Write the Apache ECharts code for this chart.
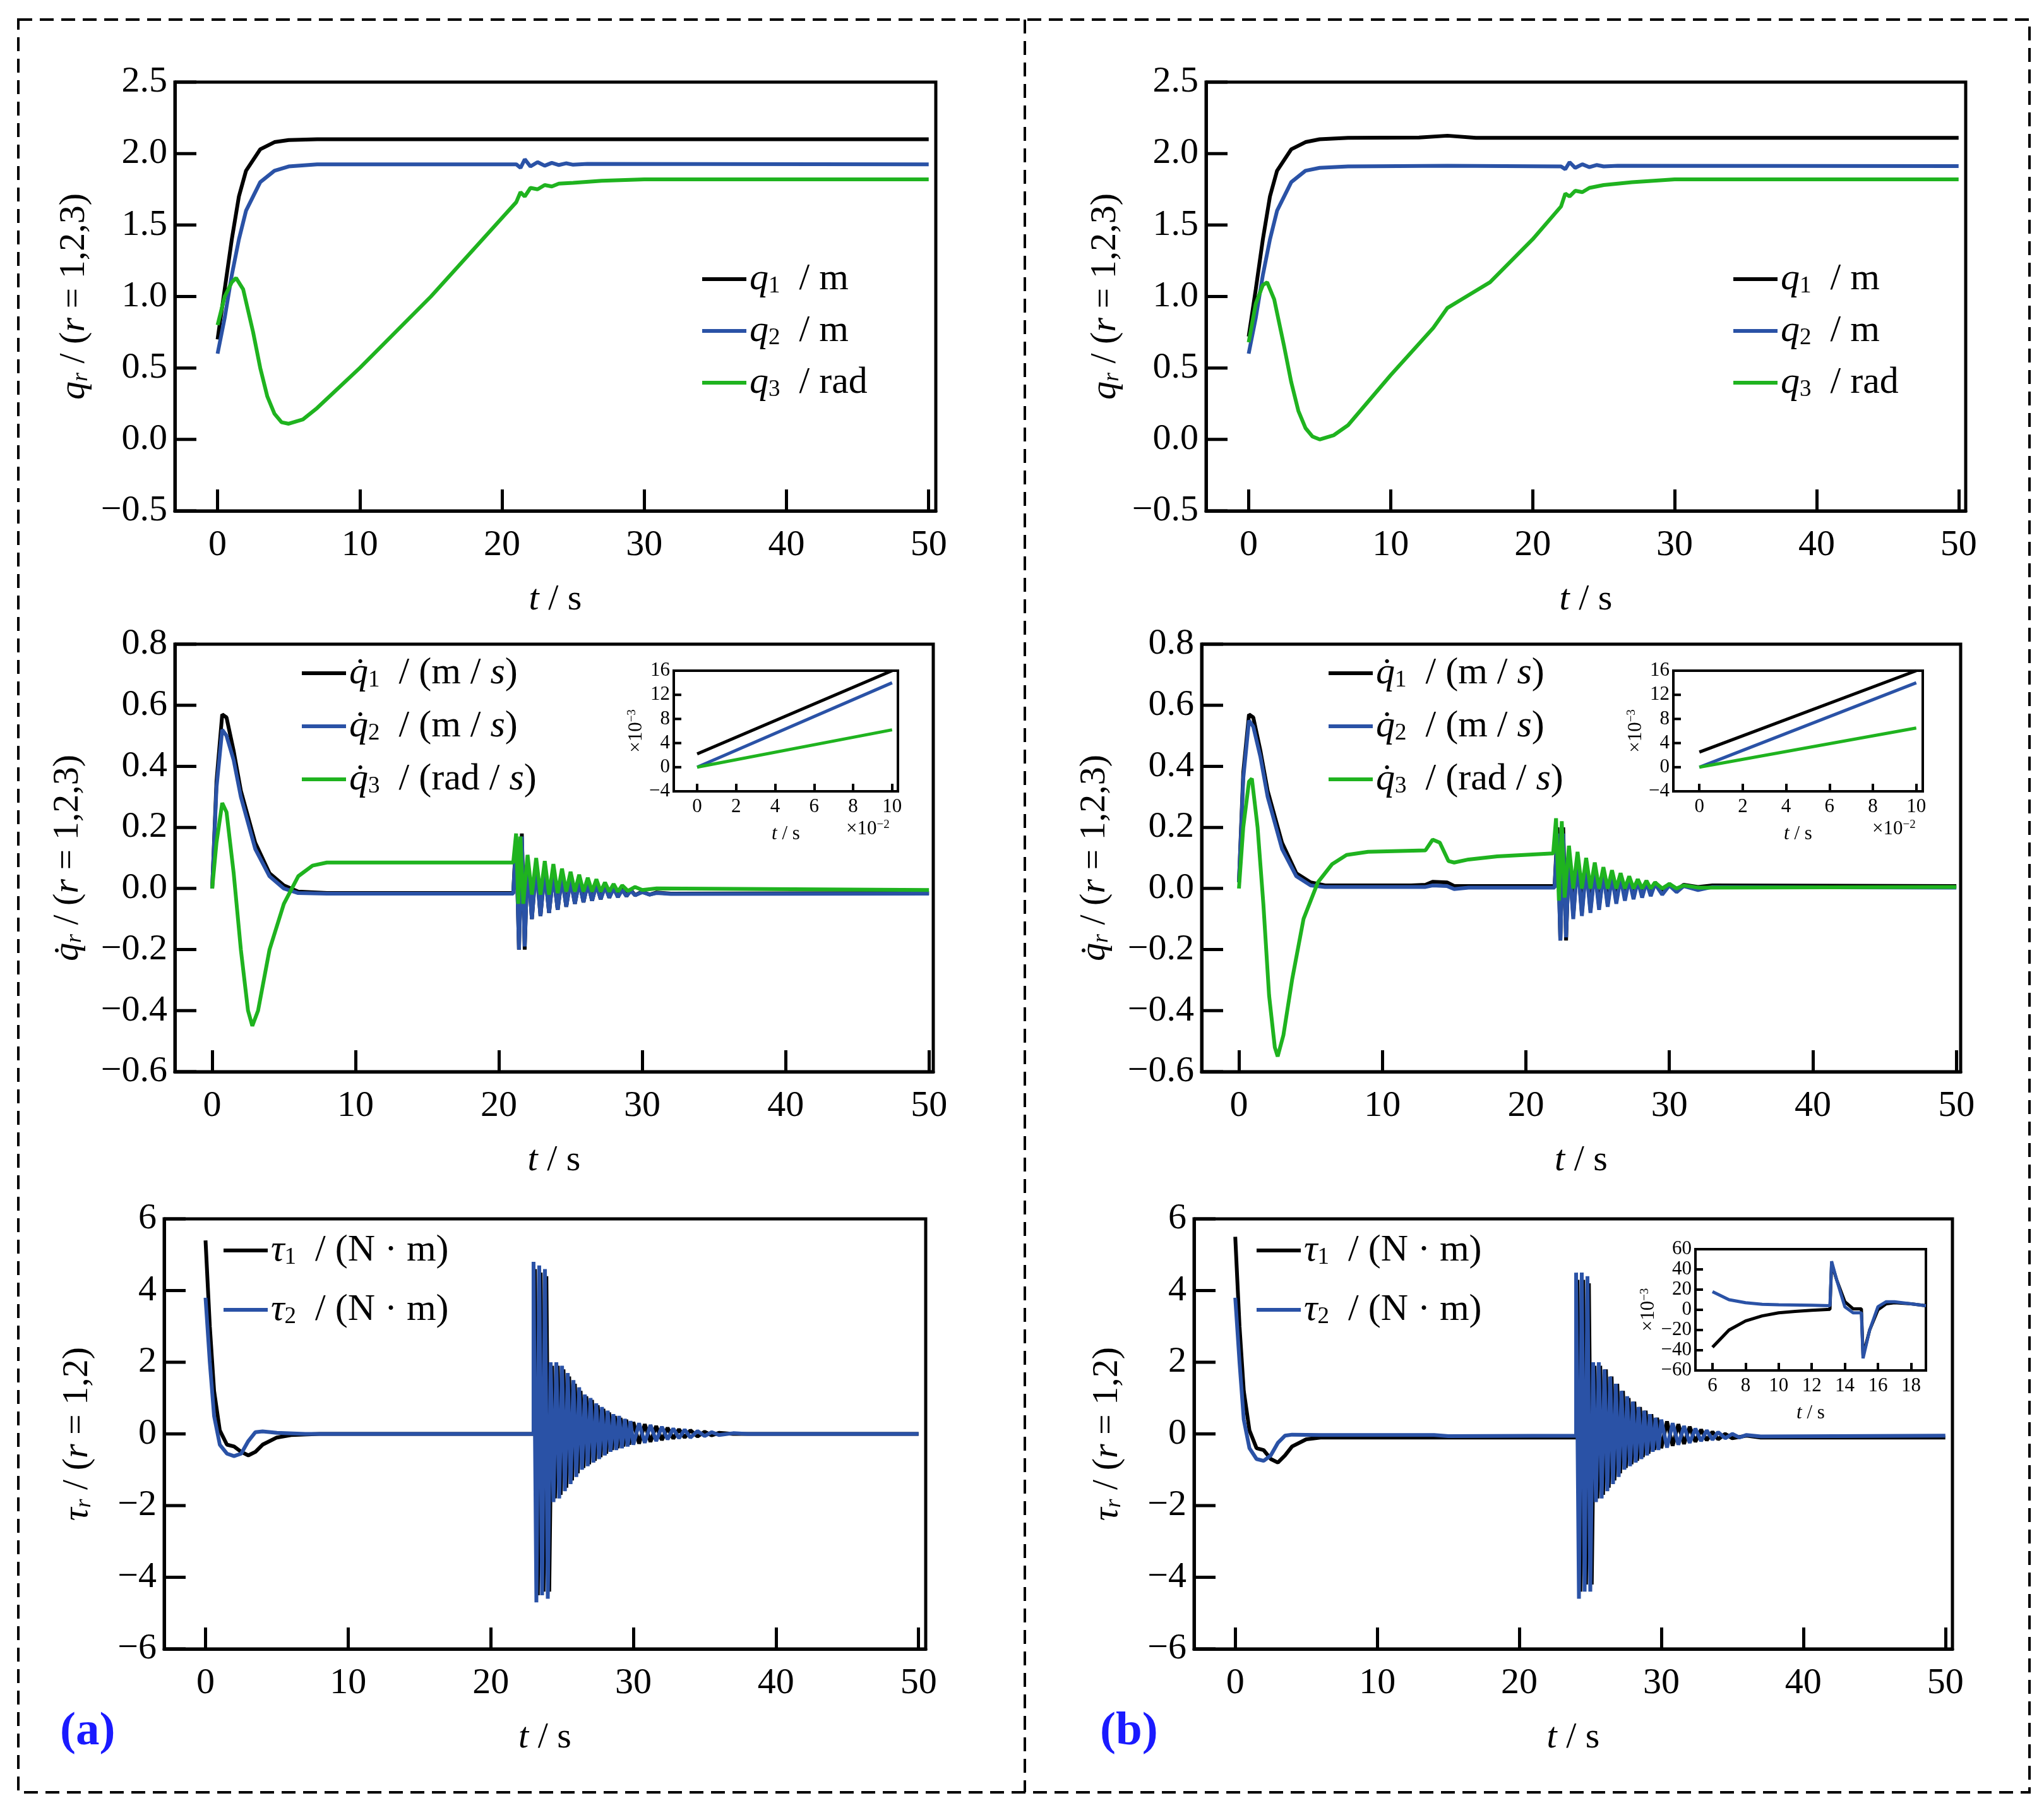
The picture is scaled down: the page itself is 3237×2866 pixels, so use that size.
<!DOCTYPE html>
<html><head><meta charset="utf-8">
<script src="https://cdn.jsdelivr.net/npm/echarts@6/dist/echarts.min.js"></script>
<style>html,body{margin:0;padding:0;background:#fff}#c{width:3237px;height:2866px}</style>
</head><body><div id="c"></div>
<script>
// ---------------- DATA ----------------
const xTicks = [0, 10, 20, 30, 40, 50];
const yTicksQ = [-0.5, 0, 0.5, 1.0, 1.5, 2.0, 2.5];
const yTicksDQ = [-0.6, -0.4, -0.2, 0, 0.2, 0.4, 0.6, 0.8];
const yTicksTau = [-6, -4, -2, 0, 2, 4, 6];
const insetXTicksA = [0, 2, 4, 6, 8, 10];
const insetYTicksA = [-4, 0, 4, 8, 12, 16];
const insetXTicksB = [6, 8, 10, 12, 14, 16, 18];
const insetYTicksB = [-60, -40, -20, 0, 20, 40, 60];

// (a) positions
const aQ1 = [[0,0.7],[0.5,1.05],[1,1.4],[1.5,1.7],[2,1.88],[3,2.03],[4,2.08],[5,2.095],[7,2.1],[50,2.1]];
const aQ2 = [[0,0.6],[0.5,0.85],[1,1.15],[1.5,1.4],[2,1.6],[3,1.8],[4,1.88],[5,1.91],[7,1.925],[21,1.925],[21.3,1.9],[21.6,1.96],[22,1.91],[22.5,1.94],[23,1.915],[23.5,1.935],[24,1.92],[24.5,1.932],[25,1.922],[26,1.928],[50,1.925]];
const aQ3 = [[0,0.8],[0.5,1.0],[1,1.1],[1.3,1.13],[1.8,1.05],[2.5,0.75],[3,0.5],[3.5,0.3],[4,0.18],[4.5,0.12],[5,0.11],[6,0.14],[7,0.22],[10,0.5],[15,1.0],[20,1.55],[21,1.66],[21.3,1.73],[21.6,1.7],[22,1.76],[22.5,1.75],[23,1.78],[23.5,1.77],[24,1.79],[25,1.795],[27,1.81],[30,1.82],[50,1.82]];
// (b) positions
const bQ1 = [[0,0.72],[0.5,1.05],[1,1.4],[1.5,1.7],[2,1.88],[3,2.03],[4,2.08],[5,2.1],[7,2.11],[12,2.112],[14,2.125],[16,2.11],[50,2.11]];
const bQ2 = [[0,0.6],[0.5,0.85],[1,1.15],[1.5,1.4],[2,1.6],[3,1.8],[4,1.88],[5,1.9],[7,1.91],[14,1.915],[22,1.91],[22.3,1.89],[22.6,1.94],[23,1.9],[23.5,1.925],[24,1.905],[24.5,1.92],[25,1.91],[26,1.915],[50,1.912]];
const bQ3 = [[0,0.68],[0.5,0.95],[1,1.08],[1.3,1.1],[1.8,0.98],[2.5,0.65],[3,0.4],[3.5,0.2],[4,0.08],[4.5,0.02],[5,0.0],[6,0.03],[7,0.1],[10,0.45],[13,0.78],[14,0.92],[15,0.98],[17,1.1],[20,1.4],[22,1.63],[22.3,1.72],[22.6,1.7],[23,1.74],[23.5,1.73],[24,1.76],[25,1.78],[27,1.8],[30,1.82],[50,1.82]];

// (a) velocities
const aDQ1 = [[0,0],[0.3,0.35],[0.7,0.57],[1,0.56],[1.5,0.45],[2,0.32],[3,0.15],[4,0.05],[5,0.01],[6,-0.01],[8,-0.015],[21,-0.015],[21.2,0.17],[21.4,-0.2],[21.6,0.18],[21.8,-0.2],[22,0.1],[22.3,-0.1],[22.6,0.08],[22.9,-0.09],[23.2,0.06],[23.5,-0.08],[23.8,0.05],[24.1,-0.07],[24.4,0.04],[24.7,-0.06],[25,0.03],[25.3,-0.05],[25.6,0.025],[25.9,-0.045],[26.2,0.02],[26.5,-0.04],[26.8,0.015],[27.1,-0.035],[27.4,0.01],[27.7,-0.03],[28,0.005],[28.3,-0.028],[28.6,0],[28.9,-0.025],[29.2,-0.005],[29.5,-0.022],[30,-0.01],[30.5,-0.02],[31,-0.013],[32,-0.017],[50,-0.015]];
const aDQ2 = [[0,0],[0.3,0.33],[0.7,0.52],[1,0.5],[1.5,0.42],[2,0.3],[3,0.13],[4,0.04],[5,0],[6,-0.015],[8,-0.017],[21,-0.017],[21.2,0.16],[21.4,-0.2],[21.6,0.17],[21.8,-0.19],[22,0.09],[22.3,-0.1],[22.6,0.07],[22.9,-0.09],[23.2,0.055],[23.5,-0.08],[23.8,0.045],[24.1,-0.07],[24.4,0.035],[24.7,-0.06],[25,0.025],[25.3,-0.05],[25.6,0.02],[25.9,-0.045],[26.2,0.015],[26.5,-0.04],[26.8,0.01],[27.1,-0.035],[27.4,0.005],[27.7,-0.03],[28,0],[28.3,-0.028],[28.6,-0.005],[28.9,-0.025],[29.2,-0.008],[29.5,-0.022],[30,-0.012],[30.5,-0.02],[31,-0.015],[32,-0.018],[50,-0.017]];
const aDQ3 = [[0,0],[0.3,0.15],[0.7,0.28],[1,0.25],[1.5,0.05],[2,-0.2],[2.5,-0.4],[2.8,-0.45],[3.2,-0.4],[4,-0.2],[5,-0.05],[6,0.04],[7,0.075],[8,0.085],[21,0.085],[21.2,0.18],[21.35,-0.05],[21.5,0.17],[21.7,-0.05],[22,0.11],[22.3,-0.02],[22.6,0.1],[22.9,-0.02],[23.2,0.09],[23.5,-0.02],[23.8,0.08],[24.1,-0.015],[24.4,0.065],[24.7,-0.01],[25,0.055],[25.3,-0.01],[25.6,0.045],[25.9,-0.01],[26.2,0.035],[26.5,-0.01],[26.8,0.03],[27.1,-0.01],[27.4,0.02],[27.7,-0.01],[28,0.015],[28.3,-0.01],[28.6,0.01],[29,-0.008],[29.5,0.005],[30,-0.005],[31,0],[50,-0.005]];
// (b) velocities
const bDQ1 = [[0,0.02],[0.3,0.38],[0.7,0.57],[1,0.56],[1.5,0.45],[2,0.32],[3,0.15],[4,0.05],[5,0.02],[6,0.01],[12,0.01],[13,0.012],[13.5,0.022],[14.5,0.02],[15,0.008],[16,0.008],[22,0.008],[22.2,0.2],[22.4,-0.17],[22.6,0.2],[22.8,-0.17],[23,0.12],[23.3,-0.09],[23.6,0.1],[23.9,-0.08],[24.2,0.08],[24.5,-0.07],[24.8,0.065],[25.1,-0.06],[25.4,0.055],[25.7,-0.05],[26,0.045],[26.3,-0.04],[26.6,0.04],[26.9,-0.03],[27.2,0.035],[27.5,-0.025],[27.8,0.03],[28.1,-0.02],[28.4,0.025],[28.7,-0.015],[29,0.02],[29.5,-0.01],[30,0.015],[30.5,-0.005],[31,0.012],[32,0.005],[33,0.01],[50,0.008]];
const bDQ2 = [[0,0.02],[0.3,0.36],[0.7,0.55],[1,0.53],[1.5,0.43],[2,0.3],[3,0.13],[4,0.04],[5,0.01],[6,0.005],[12,0.005],[13,0.005],[13.5,0.01],[14.5,0.008],[15,-0.002],[16,0.003],[22,0.003],[22.2,0.18],[22.4,-0.17],[22.6,0.18],[22.8,-0.16],[23,0.1],[23.3,-0.1],[23.6,0.09],[23.9,-0.09],[24.2,0.07],[24.5,-0.08],[24.8,0.06],[25.1,-0.07],[25.4,0.05],[25.7,-0.06],[26,0.04],[26.3,-0.05],[26.6,0.035],[26.9,-0.04],[27.2,0.03],[27.5,-0.035],[27.8,0.025],[28.1,-0.03],[28.4,0.02],[28.7,-0.025],[29,0.015],[29.5,-0.02],[30,0.01],[30.5,-0.012],[31,0.008],[32,-0.005],[33,0.005],[50,0.003]];
const bDQ3 = [[0,0],[0.3,0.2],[0.7,0.35],[0.9,0.36],[1.3,0.2],[1.7,-0.05],[2.1,-0.35],[2.5,-0.52],[2.7,-0.55],[3.1,-0.48],[3.7,-0.3],[4.5,-0.1],[5.5,0.02],[6.5,0.08],[7.5,0.11],[9,0.12],[13,0.125],[13.5,0.16],[14,0.15],[14.6,0.09],[15,0.085],[16,0.095],[18,0.105],[21.9,0.115],[22.1,0.23],[22.3,-0.04],[22.5,0.22],[22.7,-0.03],[23,0.14],[23.3,0],[23.6,0.12],[23.9,0],[24.2,0.1],[24.5,0],[24.8,0.085],[25.1,0],[25.4,0.07],[25.7,0],[26,0.06],[26.3,0],[26.6,0.05],[26.9,0],[27.2,0.04],[27.5,0],[27.8,0.03],[28.1,0],[28.4,0.025],[28.7,0],[29,0.02],[29.5,0],[30,0.015],[30.5,0],[31,0.01],[32,0.003],[50,0.005]];

// (a) torques
const aTau1 = [[0,5.4],[0.3,3],[0.6,1.2],[1,0.1],[1.5,-0.3],[2,-0.35],[2.5,-0.5],[3,-0.6],[3.5,-0.5],[4,-0.3],[5,-0.1],[6,-0.03],[8,0],[23,0],[23.1,4.6],[23.3,-4.5],[23.5,4.5],[23.7,-4.4],[23.9,4.4],[24.1,-4.4],[24.3,1.9],[24.5,-1.8],[24.7,1.9],[24.9,-1.7],[25.1,1.8],[25.3,-1.5],[25.5,1.6],[25.7,-1.3],[25.9,1.4],[26.1,-1.1],[26.3,1.2],[26.5,-0.95],[26.7,1.05],[26.9,-0.85],[27.1,0.95],[27.3,-0.75],[27.5,0.8],[27.7,-0.65],[27.9,0.7],[28.1,-0.55],[28.3,0.6],[28.5,-0.45],[28.7,0.5],[28.9,-0.4],[29.1,0.45],[29.3,-0.35],[29.5,0.4],[29.7,-0.3],[30,0.33],[30.4,-0.27],[30.8,0.27],[31.2,-0.22],[31.6,0.22],[32,-0.17],[32.4,0.17],[32.8,-0.13],[33.2,0.13],[33.6,-0.1],[34,0.1],[34.5,-0.07],[35,0.06],[35.5,-0.04],[36,0.03],[37,0],[50,0]];
const aTau2 = [[0,3.8],[0.3,2],[0.6,0.5],[1,-0.3],[1.5,-0.55],[2,-0.62],[2.5,-0.55],[3,-0.2],[3.5,0.05],[4,0.07],[5,0.03],[7,0],[23,0],[23.0,4.8],[23.2,-4.7],[23.4,4.7],[23.6,-4.5],[23.8,4.6],[24,-4.6],[24.2,2.0],[24.4,-1.9],[24.6,2.0],[24.8,-1.8],[25,1.9],[25.2,-1.6],[25.4,1.7],[25.6,-1.4],[25.8,1.5],[26,-1.2],[26.2,1.3],[26.4,-1.0],[26.6,1.1],[26.8,-0.9],[27,1.0],[27.2,-0.8],[27.4,0.85],[27.6,-0.7],[27.8,0.75],[28,-0.6],[28.2,0.65],[28.4,-0.5],[28.6,0.55],[28.8,-0.45],[29,0.5],[29.2,-0.4],[29.4,0.42],[29.6,-0.35],[29.8,0.36],[30,-0.3],[30.4,0.3],[30.8,-0.25],[31.2,0.25],[31.6,-0.2],[32,0.2],[32.4,-0.15],[32.8,0.15],[33.2,-0.12],[33.6,0.12],[34,-0.1],[34.5,0.08],[35,-0.06],[35.5,0.05],[36,-0.03],[37,0.02],[38,0],[50,0]];
// (b) torques
const bTau1 = [[0,5.5],[0.3,3],[0.6,1.2],[1,0.1],[1.5,-0.4],[2,-0.45],[2.5,-0.7],[3,-0.8],[3.5,-0.6],[4,-0.35],[5,-0.15],[6,-0.1],[8,-0.1],[24,-0.1],[24.1,4.3],[24.3,-4.4],[24.5,4.3],[24.7,-4.2],[24.9,4.2],[25.1,-4.2],[25.3,1.9],[25.5,-1.8],[25.7,1.9],[25.9,-1.7],[26.1,1.8],[26.3,-1.5],[26.5,1.6],[26.7,-1.3],[26.9,1.4],[27.1,-1.1],[27.3,1.2],[27.5,-0.95],[27.7,1.0],[27.9,-0.85],[28.1,0.9],[28.3,-0.75],[28.5,0.75],[28.7,-0.65],[28.9,0.65],[29.1,-0.55],[29.3,0.55],[29.5,-0.45],[29.7,0.45],[30,-0.4],[30.4,0.35],[30.8,-0.33],[31.2,0.27],[31.6,-0.28],[32,0.2],[32.4,-0.22],[32.8,0.12],[33.2,-0.18],[33.6,0.06],[34,-0.15],[34.5,0],[35,-0.12],[36,-0.05],[37,-0.1],[50,-0.1]];
const bTau2 = [[0,3.8],[0.3,2],[0.6,0.4],[1,-0.4],[1.5,-0.7],[2,-0.75],[2.5,-0.6],[3,-0.25],[3.5,-0.05],[4,-0.02],[6,-0.03],[14,-0.03],[15,-0.06],[24,-0.05],[24,4.5],[24.2,-4.6],[24.4,4.5],[24.6,-4.4],[24.8,4.4],[25,-4.4],[25.2,2.0],[25.4,-1.9],[25.6,2.0],[25.8,-1.8],[26,1.8],[26.2,-1.6],[26.4,1.6],[26.6,-1.4],[26.8,1.4],[27,-1.2],[27.2,1.2],[27.4,-1.0],[27.6,1.05],[27.8,-0.9],[28,0.9],[28.2,-0.8],[28.4,0.75],[28.6,-0.7],[28.8,0.65],[29,-0.6],[29.2,0.55],[29.4,-0.5],[29.6,0.45],[29.8,-0.45],[30,0.4],[30.4,-0.38],[30.8,0.3],[31.2,-0.3],[31.6,0.22],[32,-0.25],[32.4,0.15],[32.8,-0.2],[33.2,0.1],[33.6,-0.16],[34,0.05],[34.5,-0.12],[35,0],[35.5,-0.1],[36,-0.03],[37,-0.07],[50,-0.05]];

// inset (a) & (b) middle: t in 1e-2 s, values in 1e-3
const inADQ1 = [[0,2.2],[10,16]];
const inADQ2 = [[0,0],[10,14]];
const inADQ3 = [[0,0],[10,6.2]];
const inBDQ1 = [[0,2.5],[10,16]];
const inBDQ2 = [[0,0],[10,14]];
const inBDQ3 = [[0,0],[10,6.5]];
// inset (b) bottom: t in s, values in 1e-3
const inBTau1 = [[6,-37],[7,-20],[8,-11],[9,-6],[10,-3],[11,-1.5],[12,-0.5],[13.1,0.5],[13.2,46],[13.5,30],[14,8],[14.5,1],[15,1],[15.1,-45],[15.5,-20],[16,0],[16.5,6],[17,7],[18,6],[18.9,4]];
const inBTau2 = [[6,18],[7,10],[8,7],[9,5.5],[10,5],[12,4.5],[13.1,4],[13.2,48],[13.5,30],[14,3],[14.5,-3],[15,-3],[15.1,-48],[15.5,-20],[16,3],[16.5,8],[17,8],[18,6],[18.9,4]];

// ---------------- CHART ----------------
const FONT = 'Liberation Serif';
const BLACK = '#000000', BLUE = '#2a52a6', GREEN = '#1fb31f';
const fmtNum = (v, dec) => {
  const r = Math.round(v * 1e6) / 1e6;
  const s = Math.abs(r).toFixed(dec);
  return r < 0 ? '\u2212' + s : s;
};

const grids = [], xAxes = [], yAxes = [], series = [], legends = [], graphics = [];

function panel(box, xr, yt, xt, dec, yName, main) {
  const gi = grids.length;
  const bw = main ? 5 : 4;
  grids.push({left: box[0], top: box[1], width: box[2]-box[0], height: box[3]-box[1],
    show: true, borderColor: '#000', borderWidth: bw, backgroundColor: 'transparent', containLabel: false});
  const fs = main ? 58 : 31;
  const tl = main ? 34 : 12;
  xAxes.push({type: 'value', gridIndex: gi, min: xr[0], max: xr[1],
    axisLine: {show: true, onZero: false, lineStyle: {color: '#000', width: bw}}, splitLine: {show: false},
    axisTick: {show: true, inside: true, length: tl, lineStyle: {color: '#000', width: bw}, customValues: xt},
    axisLabel: {color: '#000', fontFamily: FONT, fontSize: fs, margin: main ? 26 : 9, customValues: xt,
      formatter: v => fmtNum(v, 0)},
    name: '{i|t} / s', nameLocation: 'middle', nameGap: main ? 112 : 52,
    nameTextStyle: {color: '#000', fontFamily: FONT, fontSize: fs,
      rich: {i: {fontStyle: 'italic', fontFamily: FONT, fontSize: fs, color: '#000'}}}});
  yAxes.push({type: 'value', gridIndex: gi, min: yt[0], max: yt[yt.length-1], interval: yt[1]-yt[0],
    axisLine: {show: true, onZero: false, lineStyle: {color: '#000', width: bw}}, splitLine: {show: false},
    axisTick: {show: false},
    axisLabel: {color: '#000', fontFamily: FONT, fontSize: fs, margin: main ? 12 : 6,
      formatter: v => fmtNum(v, dec)},
    name: yName.text, nameLocation: 'middle', nameRotate: 90, nameGap: yName.gap,
    nameTextStyle: {color: '#000', fontFamily: FONT, fontSize: yName.fs, rich: yName.rich}});
  // inward y ticks drawn by a custom series through the grid's own scales
  series.push({type: 'custom', xAxisIndex: gi, yAxisIndex: gi, silent: true, clip: false, z: 5,
    data: yt.map(v => [xr[0], v]),
    renderItem: (params, api) => {
      const p = api.coord([api.value(0), api.value(1)]);
      return {type: 'line', shape: {x1: p[0], y1: p[1], x2: p[0] + tl, y2: p[1]},
        style: {stroke: '#000', lineWidth: bw}};
    }});
  return gi;
}
function line(gi, name, data, color, w) {
  series.push({type: 'line', name, xAxisIndex: gi, yAxisIndex: gi, data, showSymbol: false,
    symbol: 'none', lineStyle: {color, width: w || 6}, itemStyle: {color}, animation: false, silent: true});
}

const mainRich = (fs) => ({
  i: {fontStyle: 'italic', fontFamily: FONT, fontSize: fs, color: '#000'},
  n: {fontFamily: FONT, fontSize: fs, color: '#000'},
  s: {fontFamily: FONT, fontSize: Math.round(fs*0.62), color: '#000', verticalAlign: 'bottom', padding: [Math.round(fs*0.35),0,0,0]},
  si: {fontStyle: 'italic', fontFamily: FONT, fontSize: Math.round(fs*0.62), color: '#000', verticalAlign: 'bottom', padding: [Math.round(fs*0.35),0,0,0]},
  sup: {fontFamily: FONT, fontSize: Math.round(fs*0.62), color: '#000', verticalAlign: 'top', padding: [0,0,Math.round(fs*0.35),0]}
});
const yNameQ = {text: '{i|q}{si|r} {n|/ (}{i|r}{n| = 1,2,3)}', gap: 130, fs: 58, rich: mainRich(58)};
const yNameDQ = {text: '{i|q\u0307}{si|r} {n|/ (}{i|r}{n| = 1,2,3)}', gap: 140, fs: 58, rich: mainRich(58)};
const yNameTau = {text: '{i|\u03c4}{si|r} {n|/ (}{i|r}{n| = 1,2)}', gap: 108, fs: 58, rich: mainRich(58)};
const yNameIn = {text: '{n|\u00d710}{sup|\u22123}', gap: 44, fs: 31, rich: mainRich(31)};

const legendLabels = {
  'q1': '{i|q}{s|1}{n|  / m}', 'q2': '{i|q}{s|2}{n|  / m}', 'q3': '{i|q}{s|3}{n|  / rad}',
  'dq1': '{i|q\u0307}{s|1}{n|  / (m / }{i|s}{n|)}', 'dq2': '{i|q\u0307}{s|2}{n|  / (m / }{i|s}{n|)}', 'dq3': '{i|q\u0307}{s|3}{n|  / (rad / }{i|s}{n|)}',
  'tau1': '{i|\u03c4}{s|1}{n|  / (N \u00b7 m)}', 'tau2': '{i|\u03c4}{s|2}{n|  / (N \u00b7 m)}'
};
function legend(names, left, top, gap) {
  legends.push({show: true, orient: 'vertical', left, top, data: names, itemWidth: 70, itemHeight: 6,
    icon: 'rect', itemGap: gap, selectedMode: false, formatter: n => legendLabels[n],
    textStyle: {fontFamily: FONT, fontSize: 60, color: '#000', rich: mainRich(60)}, padding: 0});
}

let g = panel([277,130,1482,809], [-3,50.5], yTicksQ, xTicks, 1, yNameQ, true);
line(g,'q1',aQ1,BLACK); line(g,'q2',aQ2,BLUE); line(g,'q3',aQ3,GREEN);
legend(['q1','q2','q3'], 1112, 412, 22);
g = panel([1910,130,3113,809], [-3,50.5], yTicksQ, xTicks, 1, yNameQ, true);
line(g,'q1',bQ1,BLACK); line(g,'q2',bQ2,BLUE); line(g,'q3',bQ3,GREEN);
legend(['q1','q2','q3'], 2745, 412, 22);
g = panel([277,1020,1478,1697], [-2.6,50.3], yTicksDQ, xTicks, 1, yNameDQ, true);
line(g,'dq1',aDQ1,BLACK); line(g,'dq2',aDQ2,BLUE); line(g,'dq3',aDQ3,GREEN);
legend(['dq1','dq2','dq3'], 478, 1036, 24);
g = panel([1903,1020,3105,1697], [-2.6,50.3], yTicksDQ, xTicks, 1, yNameDQ, true);
line(g,'dq1',bDQ1,BLACK); line(g,'dq2',bDQ2,BLUE); line(g,'dq3',bDQ3,GREEN);
legend(['dq1','dq2','dq3'], 2104, 1036, 24);
g = panel([260,1930,1466,2611], [-2.9,50.5], yTicksTau, xTicks, 0, yNameTau, true);
line(g,'tau1',aTau1,BLACK); line(g,'tau2',aTau2,BLUE);
legend(['tau1','tau2'], 354, 1950, 34);
g = panel([1891,1930,3092,2611], [-2.9,50.5], yTicksTau, xTicks, 0, yNameTau, true);
line(g,'tau1',bTau1,BLACK); line(g,'tau2',bTau2,BLUE);
legend(['tau1','tau2'], 1990, 1950, 34);

g = panel([1067,1062,1422,1253], [-1.2,10.3], insetYTicksA, insetXTicksA, 0, yNameIn, false);
line(g,'ia1',inADQ1,BLACK,5); line(g,'ia2',inADQ2,BLUE,5); line(g,'ia3',inADQ3,GREEN,5);
g = panel([2650,1062,3045,1253], [-1.2,10.3], insetYTicksA, insetXTicksA, 0, yNameIn, false);
line(g,'ib1',inBDQ1,BLACK,5); line(g,'ib2',inBDQ2,BLUE,5); line(g,'ib3',inBDQ3,GREEN,5);
g = panel([2685,1978,3050,2170], [4.97,18.9], insetYTicksB, insetXTicksB, 0, yNameIn, false);
line(g,'it1',inBTau1,BLACK,5); line(g,'it2',inBTau2,BLUE,5);

graphics.push({type: 'rect', shape: {x: 29, y: 31, width: 3185, height: 2807},
  style: {fill: 'none', stroke: '#000', lineWidth: 4, lineDash: [22, 12]}, silent: true});
graphics.push({type: 'line', shape: {x1: 1623, y1: 31, x2: 1623, y2: 2838},
  style: {stroke: '#000', lineWidth: 4, lineDash: [22, 12]}, silent: true});
const tStyle = {fontFamily: FONT, fontSize: 75, fontWeight: 'bold', fill: '#1a1aff'};
graphics.push({type: 'text', left: 95, top: 2705, style: Object.assign({text: '(a)'}, tStyle)});
graphics.push({type: 'text', left: 1742, top: 2705, style: Object.assign({text: '(b)'}, tStyle)});
graphics.push({type: 'text', left: 1340, top: 1297, style: {text: '{n|\u00d710}{sup|\u22122}', rich: mainRich(31)}});
graphics.push({type: 'text', left: 2965, top: 1297, style: {text: '{n|\u00d710}{sup|\u22122}', rich: mainRich(31)}});

const chart = echarts.init(document.getElementById('c'), null, {renderer: 'canvas'});
chart.setOption({backgroundColor: '#fff', animation: false, grid: grids, xAxis: xAxes, yAxis: yAxes,
  series, legend: legends, graphic: graphics});
</script></body></html>
